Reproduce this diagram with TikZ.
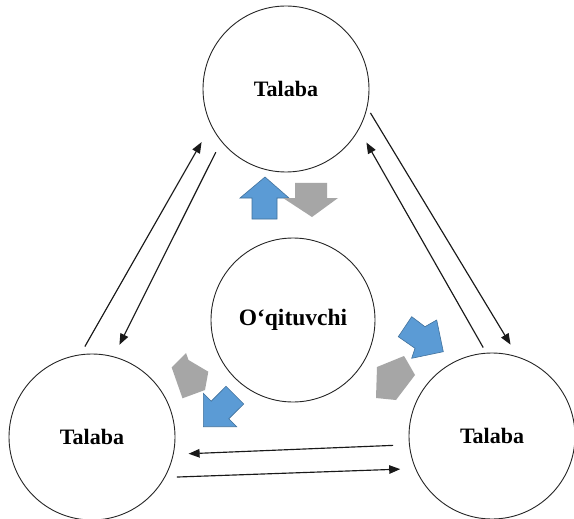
\documentclass[tikz,border=0pt]{standalone}
\usepackage{fontspec}
\setmainfont{Liberation Serif}
\usetikzlibrary{arrows.meta}
\definecolor{arrblue}{HTML}{5B9BD5}
\definecolor{arrblueedge}{HTML}{41719C}
\definecolor{arrgray}{HTML}{A6A6A6}
\begin{document}
\begin{tikzpicture}[x=1pt,y=-1pt,
  circ/.style={circle,draw=black!85,line width=0.9pt,minimum size=166pt,inner sep=0pt,
    font=\fontsize{22}{26}\selectfont\bfseries},
  link/.style={-{Triangle[length=11pt,width=8.5pt]},line width=1.15pt,draw=black!90},
  bluearr/.style={fill=arrblue,draw=arrblueedge,line width=0.6pt,line join=miter},
  grayarr/.style={fill=arrgray,draw=none}]
\useasboundingbox (0,0) rectangle (574,519);
\fill[white] (0,0) rectangle (574,519);
\node[circ] (T) at (286,89) {Talaba};
\node[circ] (L) at (92,437) {Talaba};
\node[circ] (R) at (492,436) {Talaba};
\node[circ,minimum size=164pt,font=\fontsize{23.5}{28}\selectfont\bfseries] (C) at (293,320) {O‘qituvchi};
% connectors between the students
\draw[link,shorten <=9pt,shorten >=19pt] (L.98) -- (T.206);
\draw[link,shorten <=12pt,shorten >=13pt] (T.219) -- (L.75);
\draw[link,shorten <=6pt,shorten >=14pt] (T.347) -- (R.72);
\draw[link,shorten <=6pt,shorten >=15pt] (R.94) -- (T.331);
\draw[link,shorten <=16pt,shorten >=15pt] (R.186) -- (L.348);
\draw[link,shorten <=12pt,shorten >=15pt] (L.331) -- (R.203);
% block arrows: top
\draw[bluearr] (265,177) -- (289,198) -- (277,198) -- (277,219) -- (252,219) -- (252,198) -- (240,198) -- cycle;
\fill[grayarr] (295,183) -- (327,183) -- (327,198) -- (338,198) -- (312,217) -- (283,198) -- (295,198) -- cycle;
% block arrows: bottom left
\draw[bluearr] (203.3,426.7) -- (203.3,393.3) -- (211.2,401.2) -- (226,386.3) -- (243.7,404) -- (228.8,418.8) -- (236.7,426.7) -- cycle;
\fill[grayarr] (171.7,367.5) -- (186,353) -- (188.5,360) -- (208.3,371.7) -- (205,390) -- (182.5,398.3) -- cycle;
% block arrows: bottom right
\draw[bluearr] (443.3,351.7) -- (411.7,358.3) -- (415,348.3) -- (398.3,336.7) -- (411.7,316.7) -- (425,326.7) -- (436.7,320) -- cycle;
\fill[grayarr] (377,367) -- (404,356) -- (407,361) -- (415,375) -- (396,400) -- (376,398) -- cycle;
\end{tikzpicture}
\end{document}
